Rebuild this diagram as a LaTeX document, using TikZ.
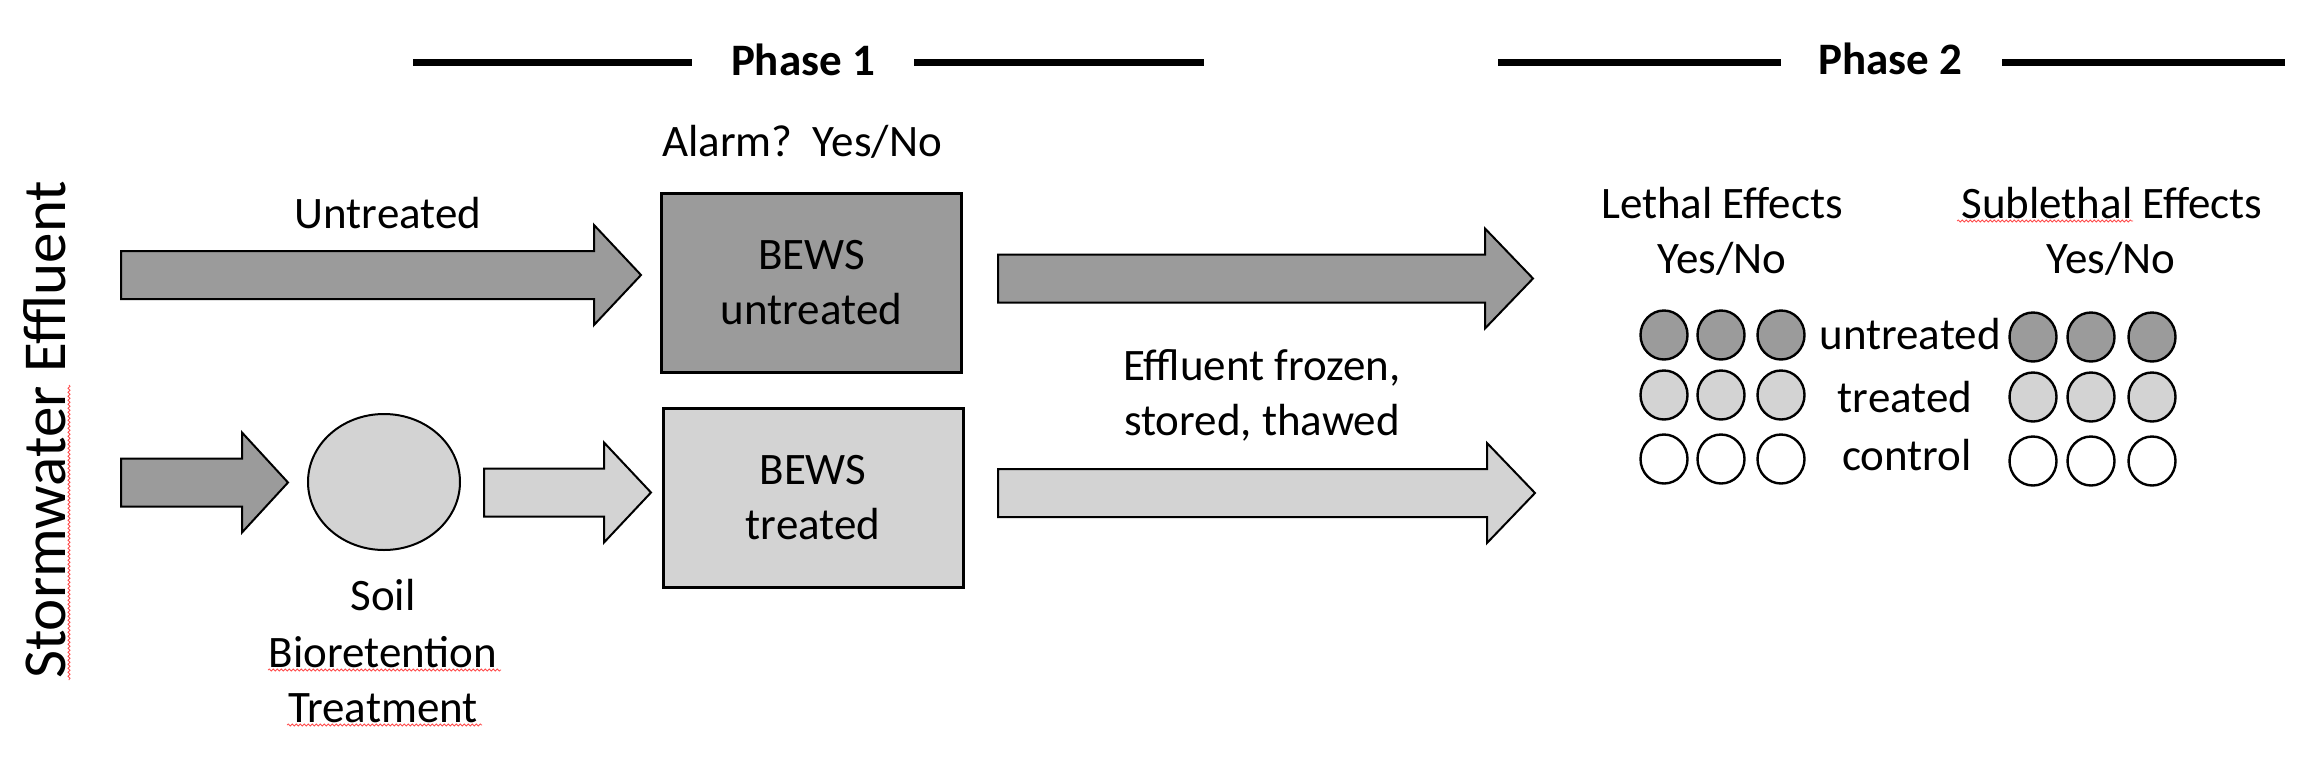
\documentclass[tikz,border=0pt]{standalone}
\usepackage{fontspec}
\setmainfont{Carlito}
\usetikzlibrary{shapes.geometric,decorations.pathmorphing}
\definecolor{darkfill}{RGB}{155,155,155}
\definecolor{lightfill}{RGB}{211,211,211}
\newcommand\blockarr[5]{%
  \draw[line width=1pt, fill=#1, line join=miter]
    (#2,#5-24) -- (#3,#5-24) -- (#3,#5-50) -- (#4,#5) -- (#3,#5+50) -- (#3,#5+24) -- (#2,#5+24) -- cycle;}
\begin{document}
\begin{tikzpicture}[x=0.5pt,y=-0.5pt,
  txt/.style={font=\fontsize{22.5}{27}\selectfont, inner sep=0pt, anchor=base},
  hdr/.style={font=\fontsize{22.5}{27}\selectfont\bfseries, inner sep=0pt, anchor=base},
  bews/.style={draw, line width=1.5pt, minimum width=150pt, minimum height=89.5pt,
    align=center, inner sep=0pt, font=\fontsize{22.5}{27.3}\selectfont},
  phaseline/.style={line width=3.5pt},
  dot/.style={ellipse, draw, line width=1.2pt, minimum width=23.5pt, minimum height=24.5pt, inner sep=0pt},
  squig/.style={red!70, line width=0.4pt, decorate, decoration={snake, amplitude=0.5pt, segment length=2pt}}]
\useasboundingbox (0,0) rectangle (2324,777);

% phase headers
\node[hdr] (ph1) at (803,75) {Phase 1};
\node[hdr] (ph2) at (1890,74) {Phase 2};
\draw[phaseline] (413,62) -- (692,62);
\draw[phaseline] (914,62) -- (1204,62);
\draw[phaseline] (1498,62) -- (1781,62);
\draw[phaseline] (2002,62) -- (2285,62);

% vertical title
\node[font=\fontsize{30.5}{36}\selectfont, rotate=90, anchor=base, inner sep=0pt] (sw) at (65,430) {Stormwater Effluent};
\draw[squig] (69,385) -- (69,680);

% block arrows
\blockarr{darkfill}{121}{594}{641}{275}
\blockarr{darkfill}{121}{242}{288}{482.5}
\blockarr{lightfill}{484}{604}{651}{492.5}
\blockarr{darkfill}{998}{1485}{1533}{278.5}
\blockarr{lightfill}{998}{1487}{1535}{493}

% labels
\node[txt] (untr) at (388,228) {Untreated};
\node[txt] (alarm) at (802,156) {Alarm?\ \ Yes/No};

% BEWS boxes
\node[bews, fill=darkfill] (bu) at (811.5,282.5) {BEWS\\untreated};
\node[bews, fill=lightfill] (bt) at (813,497.5) {BEWS\\treated};

% soil bioretention
\node[ellipse, draw, line width=1pt, fill=lightfill, minimum width=76pt, minimum height=68pt, inner sep=0pt] (soil) at (384,482) {};
\node[txt] (soil1) at (383,610) {Soil};
\node[txt] (soil2) at (383,667) {Bioretention};
\node[txt] (soil3) at (383,722) {Treatment};
\draw[squig] (268,670) -- (501,670);
\draw[squig] (287,725) -- (482,725);

% effluent text
\node[txt] (eff1) at (1262,380) {Effluent frozen,};
\node[txt] (eff2) at (1262,435) {stored, thawed};

% effects headers
\node[txt] (leth1) at (1722,218) {Lethal Effects};
\node[txt] (leth2) at (1722,273) {Yes/No};
\node[txt] (sub1) at (2112,218) {Sublethal Effects};
\node[txt] (sub2) at (2111,273) {Yes/No};
\draw[squig] (1957,221) -- (2133,221);

% row labels
\node[txt] (r1) at (1910,349) {untreated};
\node[txt] (r2) at (1905,412) {treated};
\node[txt] (r3) at (1907,470) {control};

% dots
\foreach \x [count=\i] in {1664,1721,1781}{
  \node[dot, fill=darkfill] (lu\i) at (\x,335) {};
  \node[dot, fill=lightfill] (lt\i) at (\x,395) {};
  \node[dot, fill=white] (lc\i) at (\x,459) {};
}
\foreach \x [count=\i] in {2033,2091,2152}{
  \node[dot, fill=darkfill] (su\i) at (\x,337) {};
  \node[dot, fill=lightfill] (st\i) at (\x,397) {};
  \node[dot, fill=white] (sc\i) at (\x,461) {};
}
\end{tikzpicture}
\end{document}
